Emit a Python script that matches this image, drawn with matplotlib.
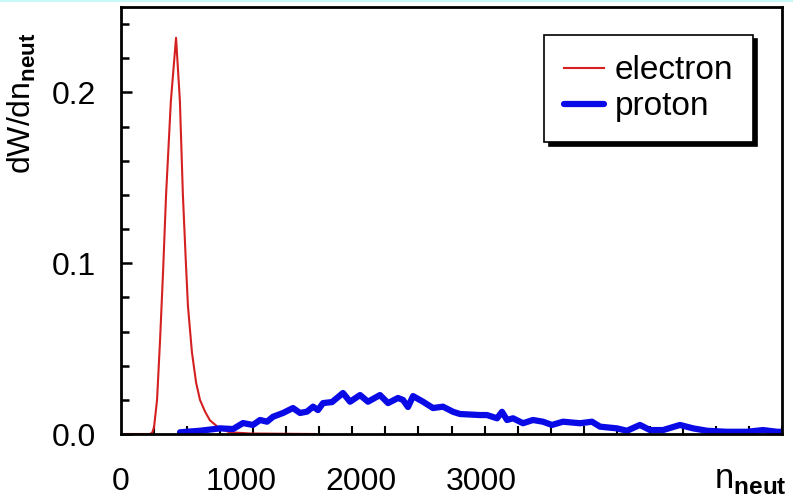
import matplotlib
matplotlib.use("Agg")
import matplotlib.pyplot as plt
from matplotlib.lines import Line2D
from matplotlib.ticker import MultipleLocator, FixedLocator

plt.rcParams['font.family'] = ['Liberation Sans', 'DejaVu Sans']
plt.rcParams['mathtext.fontset'] = 'custom'
plt.rcParams['mathtext.rm'] = 'Liberation Sans'
plt.rcParams['mathtext.bf'] = 'Liberation Sans:bold'

# electron spectrum
electron_n = [0, 240, 260, 275, 300, 325, 350, 375, 415, 458, 490, 515, 540,
              557, 590, 625, 657, 700, 740, 825, 905, 1075, 1615]
electron_w = [0, 0, 0.0008, 0.004, 0.02, 0.055, 0.095, 0.14, 0.195, 0.232,
              0.195, 0.14, 0.10, 0.075, 0.048, 0.03, 0.02, 0.013, 0.008,
              0.003, 0.001, 0.0003, 0]

# proton spectrum
proton_n = [491, 657, 824, 932, 1015, 1098, 1157, 1215, 1265, 1348, 1431,
            1490, 1548, 1598, 1639, 1681, 1756, 1847, 1906, 1989, 2055, 2155,
            2222, 2305, 2347, 2388, 2430, 2513, 2596, 2679, 2763, 2821, 2987,
            3045, 3129, 3170, 3212, 3262, 3345, 3428, 3511, 3586, 3678, 3819,
            3919, 3986, 4127, 4210, 4318, 4402, 4510, 4651, 4760, 4876, 5042,
            5209, 5342, 5459, 5500]
proton_w = [0.0010, 0.0019, 0.0033, 0.0029, 0.0064, 0.0053, 0.0082, 0.0072,
            0.0101, 0.0123, 0.0152, 0.0123, 0.0131, 0.0160, 0.0140, 0.0181,
            0.0187, 0.0240, 0.0189, 0.0228, 0.0189, 0.0228, 0.0181, 0.0211,
            0.0199, 0.0158, 0.0222, 0.0189, 0.0152, 0.0160, 0.0130, 0.0117,
            0.0111, 0.0111, 0.0092, 0.0130, 0.0082, 0.0092, 0.0063, 0.0082,
            0.0072, 0.0053, 0.0072, 0.0063, 0.0072, 0.0043, 0.0033, 0.0019,
            0.0053, 0.0023, 0.0023, 0.0053, 0.0033, 0.0019, 0.0013, 0.0013,
            0.0023, 0.0013, 0.0013]

x_labels = [0, 1000, 2000, 3000]

fig = plt.figure(figsize=(7.93, 5.0), dpi=100)
ax = fig.add_axes([121 / 793, 1 - 434 / 500, 661 / 793, 427 / 500])

ax.plot(electron_n, electron_w, color='#d42020', lw=1.5, label='electron')
ax.plot(proton_n, proton_w, color='#0a0ae6', lw=4.5, solid_joinstyle='round',
        solid_capstyle='round', label='proton')

ax.set_xlim(0, 5500)
ax.set_ylim(0, 0.25)

ax.xaxis.set_major_locator(FixedLocator(x_labels))
ax.xaxis.set_minor_locator(MultipleLocator(275))
ax.yaxis.set_major_locator(MultipleLocator(0.1))
ax.yaxis.set_minor_locator(MultipleLocator(0.02))
ax.yaxis.set_major_formatter(plt.FormatStrFormatter('%.1f'))

ax.tick_params(axis='x', which='major', length=0, pad=24, labelsize=23)
ax.tick_params(axis='x', which='minor', direction='in', length=6, width=1.5)
ax.tick_params(axis='y', which='major', direction='in', length=8, width=1.8,
               pad=18, labelsize=23)
ax.tick_params(axis='y', which='minor', direction='in', length=6, width=1.8)

for s in ax.spines.values():
    s.set_linewidth(2)

leg = ax.legend(loc='upper right', bbox_to_anchor=(0.956, 0.934),
                borderaxespad=0, fontsize=24, handlelength=1.2,
                handletextpad=0.3, labelspacing=0.15, borderpad=0.6,
                fancybox=False, edgecolor='black',
                shadow={'color': 'black', 'alpha': 1, 'ox': 3, 'oy': -3})
leg.get_frame().set_linewidth(1.2)

fig.text(22 / 793, 1 - 103 / 500, r'dW/dn$_{\mathbf{neut}}$', rotation=90,
         ha='center', va='center', fontsize=23)
fig.text(750 / 793, 1 - 480 / 500, r'n$_{\mathbf{neut}}$', ha='center',
         va='center', fontsize=25)

fig.add_artist(Line2D([0, 1], [0.998, 0.998], transform=fig.transFigure,
                      color='#c8f8f8', lw=1.5))

fig.savefig('out.png', dpi=100)
